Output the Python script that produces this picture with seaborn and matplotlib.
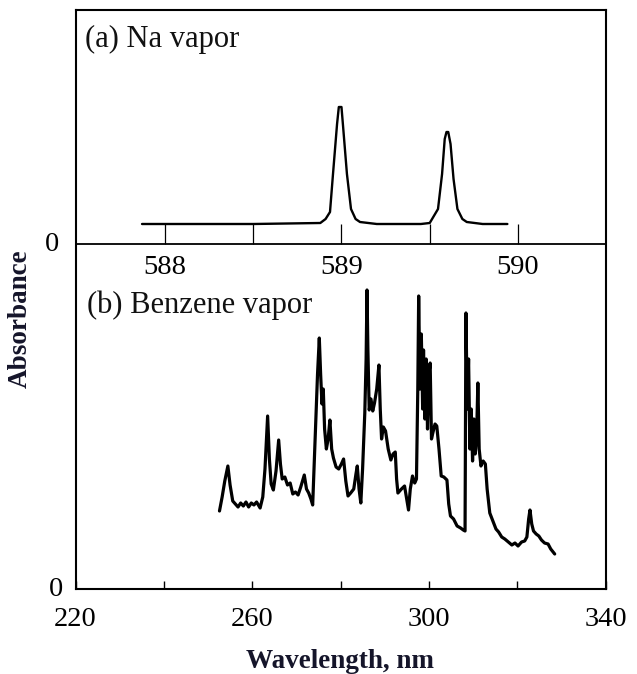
import matplotlib
matplotlib.use("Agg")
import matplotlib.pyplot as plt
import seaborn as sns
import pandas as pd
from matplotlib.ticker import FixedLocator

# ---------------- data ----------------
# (a) Na vapor, absorbance in arbitrary units
na_nm = [587.87, 588.50, 588.88, 588.91, 588.935, 588.952, 588.975, 588.985, 589.000,
         589.008, 589.031, 589.054, 589.080, 589.105, 589.20, 589.45, 589.50, 589.547,
         589.570, 589.585, 589.595, 589.605, 589.618, 589.635, 589.657, 589.685, 589.71,
         589.80, 589.94]
na_abs = [0.20, 0.20, 0.21, 0.25, 0.32, 0.70, 1.20, 1.37, 1.37,
          1.20, 0.70, 0.35, 0.25, 0.22, 0.20, 0.20, 0.21, 0.35,
          0.70, 1.05, 1.12, 1.12, 1.00, 0.65, 0.35, 0.25, 0.22,
          0.20, 0.20]

# (b) Benzene vapor, absorbance in arbitrary units
bz_nm = [252.6, 253.2, 253.8, 254.5, 255.0, 255.6, 256.2, 256.8, 257.4, 258.0, 258.6, 259.2,
         259.8, 260.4, 261.0, 261.8, 262.4, 262.9, 263.5, 263.9, 264.3, 264.8, 265.4, 266.0,
         266.4, 266.8, 267.4, 268.0, 268.6, 269.2, 269.8, 270.4, 271.0, 271.8, 272.3, 272.8,
         273.3, 273.7, 274.0, 274.4, 274.8, 275.2, 275.5, 275.8, 276.1, 276.4, 276.8, 277.2,
         277.6, 278.0, 278.4, 279.0, 279.6, 280.2, 280.7, 281.2, 281.7, 282.3, 283.0, 283.5,
         283.8, 284.2, 284.6, 285.0, 285.5, 285.8, 286.0, 286.2, 286.5, 286.9, 287.3, 287.7,
         288.2, 288.7, 289.0, 289.3, 289.7, 290.2, 290.8, 291.4, 291.9, 292.4, 292.7, 293.0,
         293.8, 294.5, 295.0, 295.4, 295.8, 296.3, 296.8, 297.2, 297.5, 297.7, 298.0, 298.3,
         298.6, 298.8, 299.1, 299.4, 299.7, 300.0, 300.3, 300.6, 300.9, 301.4, 301.8, 302.3,
         302.8, 303.4, 304.1, 304.5, 304.9, 305.6, 306.4, 307.2, 307.8, 308.2, 308.4, 308.7,
         309.0, 309.3, 309.6, 309.9, 310.2, 310.5, 310.8, 311.1, 311.4, 311.8, 312.3, 312.8,
         313.2, 313.8, 314.5, 315.2, 315.8, 316.5, 317.2, 318.0, 318.8, 319.5, 320.2, 321.0,
         321.7, 322.2, 322.6, 322.9, 323.3, 323.7, 324.3, 324.9, 325.5, 326.2, 327.0, 327.6,
         328.5]
bz_abs = [0.78, 0.92, 1.08, 1.23, 1.04, 0.88, 0.85, 0.82, 0.86, 0.83, 0.87, 0.82,
          0.86, 0.84, 0.87, 0.81, 0.92, 1.20, 1.73, 1.30, 1.05, 0.99, 1.18, 1.49,
          1.25, 1.10, 1.12, 1.04, 1.06, 0.95, 0.97, 0.94, 1.02, 1.14, 1.00, 0.96,
          0.90, 0.84, 1.20, 1.70, 2.15, 2.51, 2.15, 1.85, 2.00, 1.60, 1.40, 1.50,
          1.69, 1.40, 1.31, 1.22, 1.20, 1.25, 1.30, 1.08, 0.93, 0.96, 1.00, 1.15,
          1.23, 1.00, 0.86, 1.20, 1.76, 2.30, 2.99, 2.40, 1.79, 1.90, 1.78, 1.86,
          2.00, 2.24, 1.80, 1.50, 1.62, 1.58, 1.40, 1.29, 1.35, 1.37, 1.10, 0.96,
          1.00, 1.03, 0.90, 0.79, 1.00, 1.13, 1.06, 1.10, 2.00, 2.93, 2.00, 2.55,
          1.80, 2.39, 1.70, 2.30, 1.60, 2.15, 2.26, 1.50, 1.56, 1.65, 1.63, 1.40,
          1.13, 1.12, 1.09, 0.85, 0.73, 0.70, 0.63, 0.61, 0.59, 0.58, 2.76, 1.80,
          2.30, 1.40, 1.80, 1.28, 1.70, 1.35, 1.50, 2.06, 1.40, 1.23, 1.28, 1.25,
          1.00, 0.76, 0.68, 0.60, 0.57, 0.52, 0.50, 0.47, 0.44, 0.46, 0.43, 0.47,
          0.48, 0.52, 0.70, 0.79, 0.65, 0.58, 0.55, 0.53, 0.49, 0.46, 0.45, 0.40,
          0.35]

na_major_ticks = [588, 589, 590]
na_minor_ticks = [588.5, 589.5]
bz_major_ticks = [220, 260, 300, 340]
bz_minor_ticks = [240, 280, 320]

# ---------------- style ----------------
sns.set_theme(style="white")
plt.rcParams["font.family"] = ["Liberation Serif", "DejaVu Serif"]
plt.rcParams["axes.edgecolor"] = "black"
plt.rcParams["xtick.color"] = "black"
plt.rcParams["ytick.color"] = "black"

W, H = 637, 674
fig = plt.figure(figsize=(W / 100, H / 100), dpi=100)
fig.patch.set_facecolor("white")

L, R, T, B = 75.5, 605.5, 10, 589
NA0 = 244

def fx(px):
    return px / W

def fy(py):
    return 1 - py / H

# main (benzene) axes with the full frame
ax = fig.add_axes([fx(L), fy(B), (R - L) / W, (B - T) / H])
# Na axes overlay
ax_na = fig.add_axes([fx(L), fy(NA0), (R - L) / W, (NA0 - T) / H])
ax_na.patch.set_alpha(0)

df_bz = pd.DataFrame({"nm": bz_nm, "A": bz_abs})
df_na = pd.DataFrame({"nm": na_nm, "A": na_abs})

sns.lineplot(data=df_bz, x="nm", y="A", ax=ax, color="black", lw=2.3,
             estimator=None, sort=False)
sns.lineplot(data=df_na, x="nm", y="A", ax=ax_na, color="black", lw=1.7,
             estimator=None, sort=False)

# benzene axes
ax.set_xlim(220, 340)
ax.set_ylim(0, (B - T) / 100)
for s in ax.spines.values():
    s.set_linewidth(1.5)
    s.set_color("black")
ax.xaxis.set_major_locator(FixedLocator(bz_major_ticks))
ax.xaxis.set_minor_locator(FixedLocator(bz_minor_ticks))
ax.set_xticklabels([str(t) for t in bz_major_ticks])
ax.tick_params(axis="x", which="both", direction="in", length=6, width=1.0,
               bottom=True, top=False, labelsize=20.5, pad=13)
ax.set_yticks([0])
ax.set_yticklabels(["0"])
ax.tick_params(axis="y", which="both", length=0, labelsize=20.5, pad=9, left=False)
for lab in ax.get_yticklabels():
    lab.set_va("center")

ax.set_xlabel("Wavelength, nm", fontsize=19.5, fontweight="bold", color="#15152a")
ax.xaxis.set_label_coords(0.5, (B - 662) / (B - T))
ax.xaxis.label.set_va("center")
ax.set_ylabel("Absorbance", fontsize=19.5, fontweight="bold", color="#15152a")
ax.yaxis.set_label_coords((20 - L) / (R - L), (B - 319) / (B - T))
ax.yaxis.label.set_va("center")

ax.text((87 - L) / (R - L), (B - 305) / (B - T), "(b) Benzene vapor",
        transform=ax.transAxes, fontsize=22, ha="left", va="center", color="#111111")

# Na axes
ax_na.set_xlim(587.493, 590.496)
ax_na.set_ylim(0, (NA0 - T) / 100)
for k in ["top", "right", "left"]:
    ax_na.spines[k].set_visible(False)
ax_na.spines["bottom"].set_linewidth(1.3)
ax_na.spines["bottom"].set_color("black")
ax_na.xaxis.set_major_locator(FixedLocator(na_major_ticks))
ax_na.xaxis.set_minor_locator(FixedLocator(na_minor_ticks))
ax_na.set_xticklabels([str(t) for t in na_major_ticks])
ax_na.tick_params(axis="x", which="both", direction="in", length=14.5, width=0.9,
                  bottom=True, top=False, labelsize=20.5, pad=8)
ax_na.set_yticks([0])
ax_na.set_yticklabels(["0"])
ax_na.tick_params(axis="y", length=0, labelsize=20.5, pad=12, left=False)
for lab in ax_na.get_yticklabels():
    lab.set_va("center")
ax_na.set_xlabel("")
ax_na.set_ylabel("")
ax_na.text((85 - L) / (R - L), (NA0 - 39) / (NA0 - T), "(a) Na vapor",
           transform=ax_na.transAxes, fontsize=22, ha="left", va="center", color="#111111")

fig.savefig("out.png", dpi=100, facecolor="white")
